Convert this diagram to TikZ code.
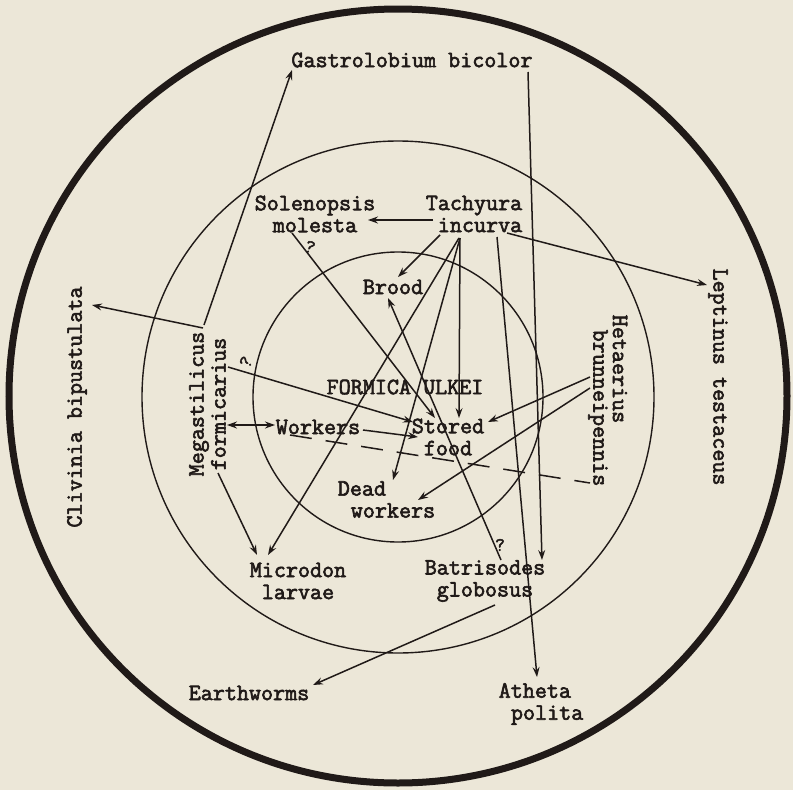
\documentclass[tikz,border=0pt]{standalone}
\usepackage{fontspec}
\newfontfamily\typew{Latin Modern Mono}[FakeBold=2.6]
\usetikzlibrary{arrows.meta}
\definecolor{paper}{RGB}{236,231,216}
\definecolor{ink}{RGB}{32,26,24}
\begin{document}
\begin{tikzpicture}[x=1pt,y=-1pt,
  lbl/.style={font=\typew\fontsize{23.4}{22}\selectfont, inner sep=0pt, text=ink, align=center},
  arr/.style={draw=ink, line width=1.5pt, -{Stealth[length=10pt,width=7pt,inset=3.5pt]}},
  darr/.style={draw=ink, line width=1.5pt, {Stealth[length=10pt,width=7pt,inset=3.5pt]}-{Stealth[length=10pt,width=7pt,inset=3.5pt]}},
  ln/.style={draw=ink, line width=1.5pt},
  qm/.style={font=\typew\fontsize{19}{19}\selectfont, text=ink, inner sep=0pt}]
\fill[paper] (0,0) rectangle (793,790);
\useasboundingbox (0,0) rectangle (793,790);
% circles
\draw[ink, line width=7pt] (398,396) ellipse [x radius=389pt, y radius=387pt];
\draw[ink, line width=1.4pt] (398,397) circle [radius=256pt];
\draw[ink, line width=1.4pt] (398,397) circle [radius=145pt];
% labels
\node[lbl] (gas) at (412,60) {Gastrolobium bicolor};
\node[lbl] (sol) at (315,214) {Solenopsis\\molesta};
\node[lbl, align=right] (tach) at (474,214) {Tachyura\\incurva};
\node[lbl] (brood) at (393,287) {Brood};
\node[lbl] (form) at (405,387) {FORMICA ULKEI};
\node[lbl] (work) at (318,427) {Workers};
\node[lbl] (stor) at (448,437) {Stored\\food};
\node[lbl, align=left] (dead) at (386.5,499.5) {Dead\\\hspace*{13pt}workers};
\node[lbl, rotate=90] (mega) at (207.5,404) {Megastilicus\\formicarius};
\node[lbl, rotate=-90] (hetA) at (620,369) {Hetaerius};
\node[lbl, rotate=-90] (hetB) at (598,408) {brunneipennis};
\node[lbl, rotate=90] (cliv) at (77,407) {Clivinia bipustulata};
\node[lbl, rotate=-90] (lept) at (718,377) {Leptinus testaceus};
\node[lbl] (micro) at (298,581) {Microdon\\larvae};
\node[lbl] (batr) at (485,581) {Batrisodes\\globosus};
\node[lbl] (earth) at (249,693) {Earthworms};
\node[lbl, align=left] (ath) at (541,704) {Atheta\\\hspace*{12.3pt}polita};
\node[qm, rotate=-20] (q1) at (310,247) {?};
\node[qm, rotate=60] (q2) at (246,362) {?};
\node[qm] (q3) at (500,545) {?};
% connectors
\draw[arr] ([shift={(-3.5,-79)}]mega.center) -- ([shift={(-120,10)}]gas.center);
\draw[arr] ([shift={(116,12)}]gas.center) -- ([shift={(57,-21)}]batr.center);
\draw[arr] ([shift={(-41,6)}]tach.center) -- ([shift={(53,6)}]sol.center);
\draw[arr] ([shift={(-34,21)}]tach.center) -- ([shift={(5,-10)}]brood.center);
\draw[arr] ([shift={(33,19)}]tach.center) -- ([shift={(-11,-92)}]lept.center);
\draw[arr] ([shift={(-14,24)}]tach.center) -- ([shift={(11,-19)}]stor.center);
\draw[arr] ([shift={(-14,24)}]tach.center) -- ([shift={(6.5,-19.5)}]dead.center);
\draw[arr] ([shift={(-15,24)}]tach.center) -- ([shift={(-30,-26)}]micro.center);
\draw[arr] ([shift={(23,23)}]tach.center) -- ([shift={(-4,-27)}]ath.center);
\draw[arr] ([shift={(-23,19)}]sol.center) -- ([shift={(-13,-19)}]stor.center);
\draw[arr] ([shift={(16,-21)}]batr.center) -- ([shift={(-5,11)}]brood.center);
\draw[arr] ([shift={(-4.5,-76)}]mega.center) -- ([shift={(15,-102)}]cliv.center);
\draw[arr] ([shift={(20.5,-37)}]mega.center) -- ([shift={(-35,-15)}]stor.center);
\draw[darr] ([shift={(19.5,21)}]mega.center) -- ([shift={(-43,-2)}]work.center);
\draw[arr] ([shift={(45,3)}]work.center) -- ([shift={(-30,0)}]stor.center);
\draw[ln, dash pattern=on 22pt off 14pt] ([shift={(-28,8)}]work.center) -- ([shift={(-8,75)}]hetB.center);
\draw[arr] ([shift={(-8,-31)}]hetB.center) -- ([shift={(40,-15)}]stor.center);
\draw[arr] ([shift={(-8,-20)}]hetB.center) -- ([shift={(31.5,0.5)}]dead.center);
\draw[arr] ([shift={(10.5,69)}]mega.center) -- ([shift={(-41,-26)}]micro.center);
\draw[arr] ([shift={(10,24)}]batr.center) -- ([shift={(64,-8)}]earth.center);
\end{tikzpicture}
\end{document}
